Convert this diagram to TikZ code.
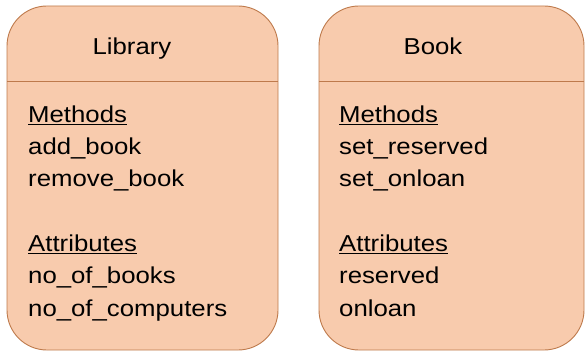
\documentclass[tikz,border=0pt]{standalone}
\usepackage{fontspec}
\setmainfont{Liberation Sans}[FakeStretch=1.12]
\usepackage{tikz}
\usetikzlibrary{positioning}
\definecolor{boxfill}{HTML}{F8CBAD}
\definecolor{boxline}{HTML}{BE7A4C}
\tikzset{
  classbox/.style={draw=boxline, fill=boxfill, line width=0.9pt, rounded corners=40pt},
  divider/.style={draw=boxline, line width=0.9pt},
  title/.style={font=\fontsize{23}{23}\selectfont, inner sep=0pt, anchor=base},
  members/.style={font=\fontsize{23}{32.3}\selectfont, align=left, inner sep=0pt, anchor=base west}
}

\begin{document}
\begin{tikzpicture}[x=1pt, y=-1pt]
			\useasboundingbox (0,0) rectangle (585,352);
			% the two class boxes
			\draw[classbox] (7,6) rectangle (278,350);
			\draw[classbox] (319,6) rectangle (584,350);
			\coordinate (LibL) at (7,81);
			\coordinate (LibR) at (278,81);
			\coordinate (BookL) at (319,81);
			\coordinate (BookR) at (584,81);
			\draw[divider] (LibL) -- (LibR);
			\draw[divider] (BookL) -- (BookR);
			% names
			\node[title] (libname) at (132,55) {Library};
			\node[title] (bookname) at (433,55) {Book};
			% members (base = baseline of the last line)
			\node[members] (libmembers) at (28,316) {\underline{Methods}\\add\_book\\remove\_book\\[32.3pt]\underline{Attributes}\\no\_of\_books\\no\_of\_computers};
			\node[members] (bookmembers) at (339,316) {\underline{Methods}\\set\_reserved\\set\_onloan\\[32.3pt]\underline{Attributes}\\reserved\\onloan};
		\end{tikzpicture}
\end{document}
